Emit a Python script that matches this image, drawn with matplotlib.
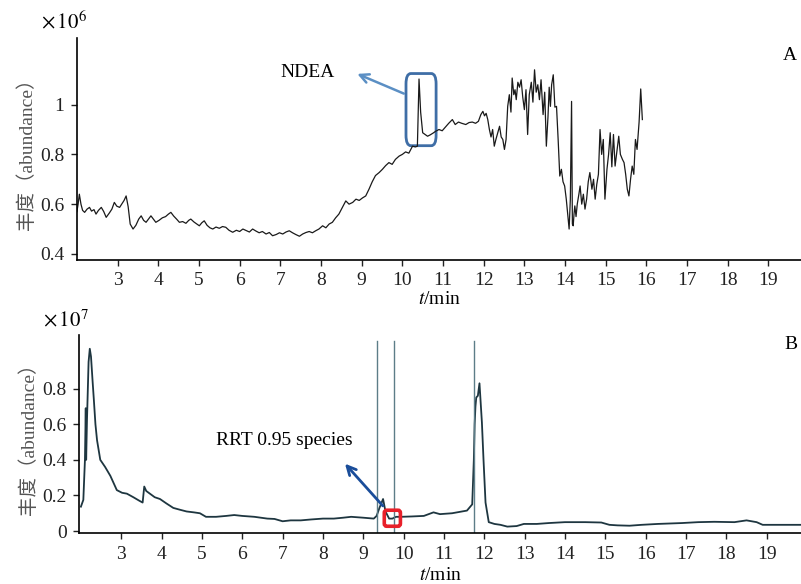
import matplotlib.pyplot as plt
from matplotlib.patches import FancyBboxPatch

# chromatogram A (NDEA reference, x10^6): (t/min, abundance)
trace_a = [
    (2.0, 0.57), (2.03, 0.6), (2.06, 0.64), (2.1, 0.6), (2.14, 0.575), (2.19, 0.567),
    (2.25, 0.58), (2.31, 0.587), (2.36, 0.572), (2.42, 0.578), (2.47, 0.56), (2.53, 0.575),
    (2.6, 0.587), (2.66, 0.57), (2.72, 0.547), (2.8, 0.565), (2.86, 0.58), (2.92, 0.607),
    (2.98, 0.592), (3.05, 0.587), (3.1, 0.6), (3.16, 0.615), (3.21, 0.633), (3.26, 0.59),
    (3.31, 0.52), (3.38, 0.5), (3.45, 0.515), (3.52, 0.54), (3.58, 0.553), (3.64, 0.535),
    (3.7, 0.527), (3.76, 0.54), (3.82, 0.553), (3.88, 0.54), (3.94, 0.527), (4.02, 0.535),
    (4.1, 0.545), (4.18, 0.55), (4.25, 0.56), (4.31, 0.567), (4.38, 0.552), (4.45, 0.54),
    (4.52, 0.527), (4.6, 0.53), (4.68, 0.523), (4.75, 0.535), (4.8, 0.54), (4.88, 0.528),
    (4.95, 0.52), (5.01, 0.513), (5.07, 0.525), (5.13, 0.533), (5.2, 0.515), (5.27, 0.505),
    (5.34, 0.5), (5.42, 0.508), (5.5, 0.503), (5.58, 0.51), (5.66, 0.507), (5.74, 0.495),
    (5.83, 0.487), (5.92, 0.495), (6.0, 0.49), (6.08, 0.5), (6.16, 0.494), (6.24, 0.488),
    (6.32, 0.5), (6.4, 0.492), (6.48, 0.485), (6.56, 0.49), (6.65, 0.48), (6.73, 0.486),
    (6.81, 0.473), (6.9, 0.478), (6.98, 0.485), (7.06, 0.48), (7.14, 0.488), (7.22, 0.493),
    (7.3, 0.485), (7.38, 0.478), (7.47, 0.471), (7.55, 0.48), (7.63, 0.486), (7.71, 0.49),
    (7.79, 0.485), (7.87, 0.493), (7.95, 0.5), (8.04, 0.513), (8.12, 0.505), (8.2, 0.52),
    (8.28, 0.527), (8.36, 0.545), (8.44, 0.56), (8.52, 0.585), (8.61, 0.613), (8.69, 0.6),
    (8.78, 0.607), (8.86, 0.62), (8.94, 0.615), (9.02, 0.625), (9.1, 0.633), (9.18, 0.66),
    (9.26, 0.69), (9.34, 0.715), (9.43, 0.727), (9.51, 0.74), (9.59, 0.755), (9.67, 0.767),
    (9.75, 0.76), (9.83, 0.78), (9.92, 0.793), (10.0, 0.8), (10.08, 0.81), (10.16, 0.805),
    (10.25, 0.833), (10.32, 0.83), (10.37, 0.833), (10.41, 1.103), (10.45, 0.97),
    (10.5, 0.887), (10.56, 0.88), (10.62, 0.873), (10.68, 0.878), (10.75, 0.885),
    (10.82, 0.893), (10.9, 0.9), (10.98, 0.895), (11.06, 0.91), (11.14, 0.925),
    (11.23, 0.94), (11.3, 0.92), (11.38, 0.93), (11.46, 0.925), (11.56, 0.92), (11.64, 0.928),
    (11.72, 0.93), (11.8, 0.925), (11.87, 0.933), (11.93, 0.96), (11.98, 0.973),
    (12.02, 0.955), (12.06, 0.965), (12.1, 0.94), (12.14, 0.9), (12.18, 0.87), (12.22, 0.9),
    (12.26, 0.833), (12.3, 0.86), (12.35, 0.89), (12.39, 0.913), (12.43, 0.87), (12.47, 0.86),
    (12.51, 0.82), (12.55, 0.86), (12.59, 0.993), (12.63, 1.04), (12.67, 0.97), (12.7, 1.107),
    (12.74, 1.04), (12.77, 1.06), (12.8, 1.02), (12.84, 1.09), (12.88, 1.07), (12.92, 1.1),
    (12.96, 1.03), (13.0, 0.98), (13.04, 1.06), (13.08, 0.88), (13.12, 1.04), (13.17, 1.09),
    (13.21, 1.01), (13.25, 1.14), (13.29, 1.05), (13.33, 1.08), (13.37, 1.02), (13.41, 1.1),
    (13.46, 0.96), (13.5, 1.05), (13.54, 0.833), (13.58, 0.95), (13.61, 1.07), (13.64, 0.993),
    (13.67, 1.08), (13.71, 1.12), (13.75, 0.99), (13.79, 0.993), (13.83, 0.86), (13.87, 0.713),
    (13.91, 0.74), (13.95, 0.69), (13.99, 0.673), (14.03, 0.62), (14.07, 0.55), (14.1, 0.5),
    (14.13, 0.62), (14.16, 1.013), (14.18, 0.52), (14.2, 0.513), (14.22, 0.56),
    (14.24, 0.593), (14.27, 0.55), (14.3, 0.6), (14.34, 0.64), (14.37, 0.673), (14.41, 0.6),
    (14.45, 0.64), (14.49, 0.58), (14.53, 0.62), (14.57, 0.69), (14.61, 0.727), (14.66, 0.66),
    (14.7, 0.7), (14.74, 0.62), (14.78, 0.68), (14.82, 0.72), (14.86, 0.9), (14.9, 0.8),
    (14.94, 0.86), (14.98, 0.62), (15.03, 0.74), (15.07, 0.8), (15.11, 0.887), (15.15, 0.75),
    (15.19, 0.88), (15.23, 0.753), (15.28, 0.82), (15.32, 0.873), (15.36, 0.8), (15.41, 0.78),
    (15.45, 0.767), (15.49, 0.72), (15.53, 0.66), (15.57, 0.633), (15.61, 0.7), (15.65, 0.753),
    (15.69, 0.72), (15.73, 0.86), (15.77, 0.82), (15.82, 0.93), (15.86, 1.063), (15.9, 0.94),
]
time_a = [p[0] for p in trace_a]
abund_a = [p[1] for p in trace_a]

# chromatogram B (sample, x10^7)
time_b = [2.0, 2.06, 2.1, 2.12, 2.13, 2.15, 2.19, 2.22, 2.25, 2.29, 2.32, 2.36, 2.4, 2.48,
          2.6, 2.73, 2.89, 3.02, 3.14, 3.3, 3.45, 3.53, 3.57, 3.62, 3.71, 3.83, 3.96, 4.12,
          4.29, 4.45, 4.62, 4.8, 4.95, 5.1, 5.35, 5.6, 5.8, 6.0, 6.3, 6.62, 6.8, 7.0, 7.2,
          7.45, 7.7, 8.0, 8.27, 8.5, 8.7, 9.0, 9.26, 9.33, 9.4, 9.49, 9.55, 9.64, 9.72, 9.81,
          9.93, 10.2, 10.5, 10.74, 10.9, 11.2, 11.57, 11.7, 11.74, 11.76, 11.78, 11.8, 11.84,
          11.88, 11.94, 11.98, 12.03, 12.11, 12.25, 12.4, 12.57, 12.8, 12.98, 13.3, 13.6,
          14.0, 14.5, 14.9, 15.1, 15.3, 15.6, 15.9, 16.3, 16.9, 17.3, 17.7, 18.2, 18.5,
          18.75, 18.9, 19.1, 19.5, 19.85]
abund_b = [0.137, 0.175, 0.4, 0.69, 0.4, 0.62, 0.95, 1.024, 0.98, 0.84, 0.74, 0.6, 0.51,
           0.4, 0.36, 0.31, 0.23, 0.215, 0.21, 0.19, 0.17, 0.16, 0.25, 0.225, 0.21, 0.19,
           0.18, 0.155, 0.13, 0.12, 0.11, 0.105, 0.1, 0.08, 0.08, 0.085, 0.09, 0.085, 0.08,
           0.07, 0.068, 0.055, 0.06, 0.06, 0.065, 0.07, 0.07, 0.075, 0.08, 0.075, 0.07, 0.085,
           0.13, 0.18, 0.11, 0.07, 0.07, 0.08, 0.08, 0.082, 0.085, 0.105, 0.095, 0.1, 0.115,
           0.15, 0.4, 0.6, 0.7, 0.75, 0.76, 0.83, 0.61, 0.4, 0.16, 0.05, 0.04, 0.035, 0.025,
           0.028, 0.04, 0.04, 0.045, 0.05, 0.05, 0.048, 0.035, 0.032, 0.03, 0.035, 0.04,
           0.045, 0.05, 0.052, 0.05, 0.06, 0.05, 0.035, 0.035, 0.035, 0.035]

ticks = list(range(3, 20))
ref_lines_b = [9.34, 9.76, 11.75]

plt.rcParams['font.family'] = ['Liberation Serif', 'Noto Sans CJK SC']
plt.rcParams['font.size'] = 14
plt.rcParams['mathtext.fontset'] = 'stix'

fig = plt.figure(figsize=(8.01, 5.84), dpi=100)
ax1 = fig.add_axes([0.096, 0.555, 0.904, 0.38])
ax2 = fig.add_axes([0.099, 0.087, 0.901, 0.339])

ylab = '丰度（abundance）'
for ax in (ax1, ax2):
    for s in ('top', 'right'):
        ax.spines[s].set_visible(False)
    ax.spines['left'].set_linewidth(1.2)
    ax.spines['bottom'].set_linewidth(1.2)
    ax.set_xticks(ticks)
    ax.tick_params(length=4, width=1, colors='#222222', pad=5, labelsize=14)
    ax.set_ylabel(ylab, fontfamily=['Liberation Serif', 'Noto Sans CJK SC'], fontsize=14,
                  color='#555555', labelpad=3)

# --- panel A
ax1.plot(time_a, abund_a, color='#1a1a1a', lw=0.9)
ax1.set_xlim(2.0, 19.8)
ax1.set_ylim(0.376, 1.268)
ax1.set_yticks([0.4, 0.6, 0.8, 1.0])
ax1.set_yticklabels(['0.4', '0.6', '0.8', '1'])
ax1.set_xlabel('$t$/min', labelpad=1, fontsize=14)
ax1.text(-0.05, 1.02, r'$\times\,10^6$', transform=ax1.transAxes, fontsize=15, va='bottom')
ax1.text(0.995, 0.9, 'A', transform=ax1.transAxes, ha='right', fontsize=14)
box = FancyBboxPatch((10.09, 0.835), 0.74, 0.29, boxstyle='round,pad=0,rounding_size=0.12',
                     mutation_aspect=0.35, fill=False, ec='#3f6ea6', lw=2)
ax1.add_patch(box)
ax1.annotate('NDEA', xy=(8.83, 1.128), xytext=(7.0, 1.128), va='center', fontsize=14)
ax1.annotate('', xy=(8.83, 1.128), xytext=(10.1, 1.04),
             arrowprops=dict(arrowstyle='->', color='#5b8fc4', lw=1.8, mutation_scale=16))

# --- panel B
ax2.plot(time_b, abund_b, color='#1e3640', lw=1.3)
for xv in ref_lines_b:
    ax2.plot([xv, xv], [-0.012, 1.065], color='#5c7d88', lw=1)
ax2.set_xlim(1.96, 19.85)
ax2.set_ylim(-0.012, 1.1)
ax2.set_yticks([0, 0.2, 0.4, 0.6, 0.8])
ax2.set_yticklabels(['0', '0.2', '0.4', '0.6', '0.8'])
ax2.set_xlabel('$t$/min', labelpad=3, fontsize=14)
ax2.text(-0.05, 1.02, r'$\times\,10^7$', transform=ax2.transAxes, fontsize=15, va='bottom')
ax2.text(0.995, 0.93, 'B', transform=ax2.transAxes, ha='right', fontsize=14)
sq = FancyBboxPatch((9.52, 0.027), 0.4, 0.09, boxstyle='round,pad=0,rounding_size=0.06',
                    mutation_aspect=0.25, fill=False, ec='#e8202a', lw=2.6, zorder=5)
ax2.add_patch(sq)
ax2.text(5.35, 0.51, 'RRT 0.95 species', fontsize=14, va='center')
ax2.annotate('', xy=(8.5, 0.39), xytext=(9.53, 0.13),
             arrowprops=dict(arrowstyle='->', color='#1a4d9a', lw=2, mutation_scale=16))

fig.savefig('out.png', dpi=100)
